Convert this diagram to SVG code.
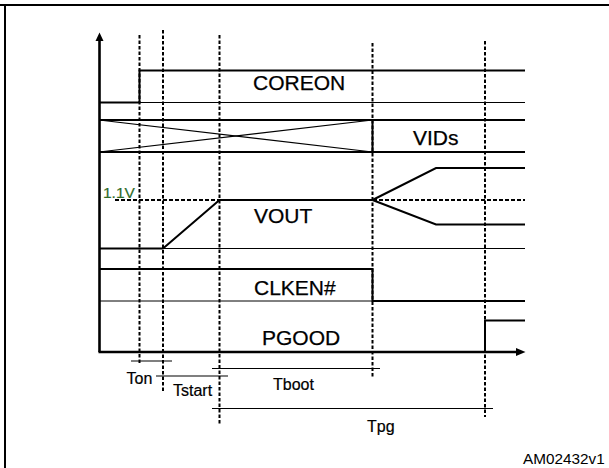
<svg xmlns="http://www.w3.org/2000/svg" width="609" height="468" viewBox="0 0 609 468">
<style>
.sig{stroke:#000;stroke-width:2;fill:none}
.base{stroke:#000;stroke-width:1;fill:none}
.thin{stroke:#000;stroke-width:1.2;fill:none}
.axis{stroke:#000;stroke-width:2.6;fill:none}
.vd{stroke:#000;stroke-width:2;stroke-dasharray:3.5 2;fill:none}
.hd{stroke:#000;stroke-width:2;stroke-dasharray:4 2;fill:none}
.lbl{font-family:"Liberation Sans",Arial,sans-serif;font-size:21px;fill:#000;stroke:#000;stroke-width:0.25}
.sm{font-family:"Liberation Sans",Arial,sans-serif;font-size:16px;fill:#000;stroke:#000;stroke-width:0.2}
</style>
<rect width="609" height="468" fill="#fff"/>
<g id="frame">
<line x1="0" y1="5" x2="609" y2="5" stroke="#000" stroke-width="2"/>
<line x1="5" y1="4" x2="5" y2="468" stroke="#000" stroke-width="2"/>
</g>
<g id="axes">
<line class="axis" x1="99.5" y1="352" x2="99.5" y2="40"/>
<polygon points="99.5,32.5 95.5,41 103.5,41" fill="#000"/>
<line class="axis" x1="98.5" y1="352" x2="517" y2="352"/>
<polygon points="525.5,352 516,348 516,356" fill="#000"/>
</g>
<g id="connectors">
<line class="vd" x1="139.5" y1="35" x2="139.5" y2="365"/>
<line class="vd" x1="163" y1="30" x2="163" y2="393"/>
<line class="vd" x1="219.5" y1="35" x2="219.5" y2="424"/>
<line class="vd" x1="372.5" y1="43" x2="372.5" y2="377"/>
<line class="vd" x1="485" y1="41" x2="485" y2="417"/>
<line class="hd" x1="115" y1="200" x2="525" y2="200"/>
<line class="thin" x1="131" y1="361" x2="172" y2="361"/>
<line class="thin" x1="156" y1="376" x2="228" y2="376"/>
<line class="thin" x1="212" y1="368.5" x2="380" y2="368.5"/>
<line class="thin" x1="212" y1="408.5" x2="493" y2="408.5"/>
</g>
<g id="coreon">
<line class="base" x1="139" y1="102.5" x2="525" y2="102.5"/>
<polyline class="sig" points="99,102.5 139.5,102.5 139.5,70.5 525,70.5"/>
<text class="lbl" x="253" y="89.5">COREON</text>
</g>
<g id="vids">
<line class="sig" x1="99" y1="120" x2="525" y2="120"/>
<line class="sig" x1="99" y1="152" x2="525" y2="152"/>
<line class="thin" x1="99" y1="120" x2="372.5" y2="152"/>
<line class="thin" x1="99" y1="152" x2="372.5" y2="120"/>
<line class="sig" x1="372.5" y1="120" x2="372.5" y2="152"/>
<text class="lbl" x="413" y="145">VIDs</text>
</g>
<g id="vout">
<line class="base" x1="163" y1="248.5" x2="525" y2="248.5"/>
<polyline class="sig" points="99,248.5 163,248.5 219.5,200 372.5,200"/>
<polyline class="sig" points="372.5,200 436,168 525,168"/>
<polyline class="sig" points="372.5,200 436,224.5 525,224.5"/>
<text x="103" y="197.5" font-family="Liberation Sans, Arial, sans-serif" font-size="15.5" fill="#2e6b28" stroke="#2e6b28" stroke-width="0.2">1.1V</text>
<text class="lbl" x="254" y="222.5">VOUT</text>
</g>
<g id="clken">
<line class="base" x1="99" y1="301" x2="372" y2="301"/>
<polyline class="sig" points="99,269 372.5,269 372.5,301 525,301"/>
<text class="lbl" x="254" y="295">CLKEN#</text>
</g>
<g id="pgood">
<polyline class="sig" points="485,352 485,320.5 525,320.5"/>
<text class="lbl" x="262" y="345">PGOOD</text>
</g>
<g id="labels">
<text class="sm" x="126.5" y="384">Ton</text>
<text class="sm" x="173" y="396">Tstart</text>
<text class="sm" x="273" y="389.5">Tboot</text>
<text class="sm" x="367" y="432">Tpg</text>
<text x="523" y="463.5" font-family="Liberation Sans, Arial, sans-serif" font-size="15.3" fill="#000">AM02432v1</text>
</g>
</svg>
